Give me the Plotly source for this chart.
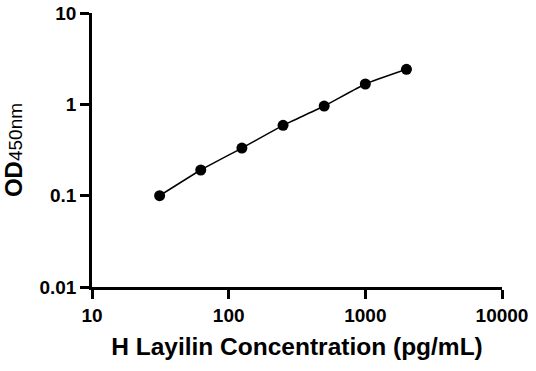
import plotly.graph_objects as go

concentration = [31.25, 62.5, 125, 250, 500, 1000, 2000]
od450 = [0.100, 0.191, 0.332, 0.589, 0.958, 1.67, 2.42]

x_tickvals = [10, 100, 1000, 10000]
x_ticktext = ["10", "100", "1000", "10000"]
y_tickvals = [0.01, 0.1, 1, 10]
y_ticktext = ["0.01", "0.1", "1", "10"]

FONT = "Liberation Sans"

fig = go.Figure()
fig.add_trace(go.Scatter(
    x=concentration, y=od450,
    mode="lines+markers",
    line=dict(color="black", width=1.5, shape="spline", smoothing=0.4),
    marker=dict(color="black", size=11),
    showlegend=False,
))

fig.update_layout(
    width=536, height=371,
    margin=dict(l=92, r=34, t=13, b=84),
    paper_bgcolor="white", plot_bgcolor="white",
    font=dict(family=FONT, color="black"),
)
fig.update_xaxes(
    type="log", range=[1, 4], automargin=False,
    tickvals=x_tickvals, ticktext=[f"<b>{t}</b>" for t in x_ticktext],
    tickfont=dict(size=19, family=FONT, color="black"),
    showline=True, linecolor="black", linewidth=2.5,
    ticks="outside", ticklen=9, tickwidth=2.5, tickcolor="black",
    showgrid=False, zeroline=False,
    title=dict(text="<b>H Layilin Concentration (pg/mL)</b>",
               font=dict(size=24.5, family=FONT, color="black"), standoff=14),
)
fig.update_yaxes(
    type="log", range=[-2, 1], automargin=False,
    tickvals=y_tickvals, ticktext=[f"<b>{t}</b>" for t in y_ticktext],
    tickfont=dict(size=19, family=FONT, color="black"),
    showline=True, linecolor="black", linewidth=2.5,
    ticks="outside", ticklen=9, tickwidth=2.5, tickcolor="black",
    showgrid=False, zeroline=False,
    title=dict(text="<b>OD</b><span style='font-size:19px'>450nm</span>",
               font=dict(size=24, family=FONT, color="black"), standoff=12),
)

fig.write_html("out.html", config={"displayModeBar": False},
               post_script="document.body.style.margin='0';")
